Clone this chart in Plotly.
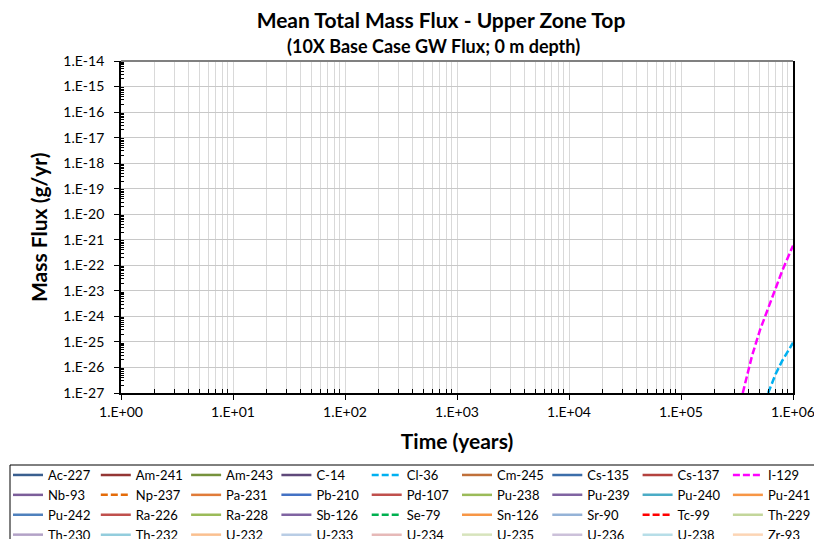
import plotly.graph_objects as go

# Nuclides shown in the legend (Excel order) and their line styles
nuclides = [
    "Ac-227", "Am-241", "Am-243", "C-14", "Cl-36", "Cm-245", "Cs-135", "Cs-137", "I-129",
    "Nb-93", "Np-237", "Pa-231", "Pb-210", "Pd-107", "Pu-238", "Pu-239", "Pu-240", "Pu-241",
    "Pu-242", "Ra-226", "Ra-228", "Sb-126", "Se-79", "Sn-126", "Sr-90", "Tc-99", "Th-229",
    "Th-230", "Th-232", "U-232", "U-233", "U-234", "U-235", "U-236", "U-238", "Zr-93",
]
colors = [
    "#3A5F8F", "#943634", "#76923C", "#5F497A", "#00B0F0", "#C0703A", "#3C6EAA", "#B4423E", "#FF00FF",
    "#7C5E9A", "#E46C0A", "#E07B39", "#4472C4", "#C0504D", "#9BBB59", "#8064A2", "#4BACC6", "#F79646",
    "#4F81BD", "#C0504D", "#9BBB59", "#8064A2", "#00B050", "#F79646", "#95B3D7", "#FF0000", "#C3D69B",
    "#B3A2C7", "#93CDDD", "#FAC090", "#B9CDE5", "#E6B9B8", "#D7E4BD", "#CCC1DA", "#B7DEE8", "#FCD5B5",
]
dashed = {"Cl-36", "I-129", "Np-237", "Se-79", "Tc-99"}

# Only two nuclides reach the plotted range
i129_time = [3.56e5, 4.3e5, 5.07e5, 6.5e5, 8.0e5, 1.0e6]
i129_flux = [1.0e-27, 2.8e-26, 2.9e-25, 5.9e-24, 6.0e-23, 5.9e-22]
cl36_time = [6.0e5, 7.0e5, 8.0e5, 9.0e5, 1.0e6]
cl36_flux = [1.0e-27, 5.6e-27, 1.8e-26, 4.2e-26, 9.3e-26]

series = {"I-129": (i129_time, i129_flux), "Cl-36": (cl36_time, cl36_flux)}

x_ticks = [1e0, 1e1, 1e2, 1e3, 1e4, 1e5, 1e6]
x_labels = ["1.E+00", "1.E+01", "1.E+02", "1.E+03", "1.E+04", "1.E+05", "1.E+06"]
y_ticks = [10.0 ** e for e in range(-27, -13)]
y_labels = [f"1.E-{-e}" for e in range(-27, -13)]

x_minor = [m * 10 ** d for d in range(0, 6) for m in range(2, 10)]
y_minor = [m * 10.0 ** d for d in range(-27, -14) for m in range(2, 10)]

# page body has an 8px margin, so the figure is sized/offset to compensate
W, H = 814, 531
L, R, T, B = 113, 29, 53, 146
pw, ph = W - L - R, H - T - B
n_cols = 9

fig = go.Figure()
for k, (name, col) in enumerate(zip(nuclides, colors)):
    xs, ys = series.get(name, ([None], [None]))
    leg = "legend" if k % n_cols == 0 else f"legend{k % n_cols + 1}"
    fig.add_trace(go.Scatter(
        x=xs, y=ys, name=name, mode="lines", legend=leg,
        line=dict(color=col, width=2.5, dash="7px,3px" if name in dashed else "solid"),
    ))

font_family = "Lato, 'Open Sans', sans-serif"

# one vertical legend per column so the 9-column grid matches Excel's
legends = {}
for c in range(n_cols):
    key = "legend" if c == 0 else f"legend{c + 1}"
    legends[key] = dict(
        orientation="v",
        xref="container", yref="container",
        x=max(0.0, -2.5 + 90.3 * c) / W, y=1 - 452 / H, xanchor="left", yanchor="top",
        borderwidth=0, bgcolor="rgba(0,0,0,0)",
        font=dict(size=13), itemwidth=30, tracegroupgap=0,
    )

fig.update_layout(
    width=W, height=H,
    margin=dict(l=L, r=R, t=T, b=B, autoexpand=False),
    plot_bgcolor="white", paper_bgcolor="white",
    font=dict(family=font_family, color="black", size=14),
    showlegend=True,
    title=dict(
        text="<b>Mean Total Mass Flux - Upper Zone Top</b>",
        x=433 / W, xanchor="center", xref="container",
        y=1 - 13 / H, yanchor="middle", yref="container",
        font=dict(size=21),
    ),
    xaxis=dict(
        type="log", range=[0, 6],
        tickvals=x_ticks, ticktext=x_labels,
        ticks="outside", ticklen=5, tickcolor="black",
        showline=True, linecolor="black", linewidth=1.5,
        showgrid=True, gridcolor="#D9D9D9", gridwidth=1,
        minor=dict(tickvals=x_minor, ticks="inside", ticklen=4, tickcolor="black",
                   showgrid=True, gridcolor="#D9D9D9", gridwidth=1),
        title=dict(text="<b>Time (years)</b>", font=dict(size=21), standoff=16),
        zeroline=False,
    ),
    yaxis=dict(
        type="log", range=[-27, -14],
        tickvals=y_ticks, ticktext=[t + "\u00a0\u00a0" for t in y_labels],
        ticks="outside", ticklen=5, tickcolor="black",
        showline=True, linecolor="black", linewidth=1.5, mirror=True,
        showgrid=True, gridcolor="#C8C8C8", gridwidth=1,
        minor=dict(tickvals=y_minor, ticks="inside", ticklen=3, tickcolor="black", showgrid=False),
        zeroline=False,
    ),
    annotations=[
        dict(text="<b>(10X Base Case GW Flux; 0 m depth)</b>",
             xref="paper", yref="paper", x=(425 - L) / pw, y=1, yshift=15,
             xanchor="center", yanchor="middle", showarrow=False,
             font=dict(size=18)),
        # y-axis title placed by hand
        dict(text="<b>Mass Flux (g/yr)</b>", textangle=-90,
             xref="paper", yref="paper", x=(30 - L) / pw, y=0.5,
             xanchor="center", yanchor="middle", showarrow=False,
             font=dict(size=21)),
    ],
    shapes=[
        dict(type="line", xref="paper", yref="paper", x0=0, x1=1, y0=1, y1=1,
             line=dict(color="#808080", width=2)),
        # legend frame
        dict(type="rect", xref="paper", yref="paper",
             x0=(2 - L) / pw, x1=(813 - L) / pw,
             y0=(ph - (457 - T)) / ph, y1=(ph - (545 - T)) / ph,
             line=dict(color="black", width=1), fillcolor="rgba(0,0,0,0)"),
    ],
    **legends,
)

fig.write_html("out.html")
